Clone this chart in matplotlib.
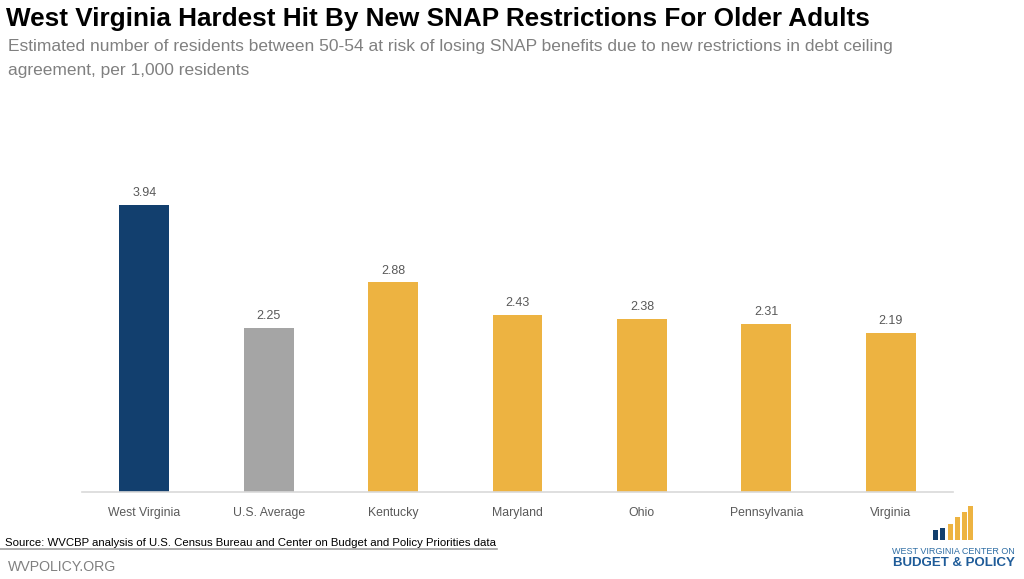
import matplotlib
matplotlib.use('Agg')
import matplotlib.pyplot as plt
from matplotlib.patches import Rectangle
from matplotlib.lines import Line2D

states = ['West Virginia', 'U.S. Average', 'Kentucky', 'Maryland', 'Ohio', 'Pennsylvania', 'Virginia']
values = [3.94, 2.25, 2.88, 2.43, 2.38, 2.31, 2.19]
labels = ['3.94', '2.25', '2.88', '2.43', '2.38', '2.31', '2.19']

navy = '#123F6E'
grey = '#A5A5A5'
gold = '#EDB341'
colors = [navy, grey] + [gold] * 5

plt.rcParams['font.family'] = ['Liberation Sans', 'DejaVu Sans']

W, H = 1024, 579
fig = plt.figure(figsize=(W / 100, H / 100), dpi=100)

def fx(px):
    return px / W

def fy(py):
    return 1 - py / H

# axes placed so the baseline sits at y=492 and bars span 82..953
top_px = 120
ymax = (492 - top_px) / 72.8
ax = fig.add_axes([fx(82), fy(492), fx(953 - 82), (492 - top_px) / H])
x = range(len(states))
bars = ax.bar(x, values, width=0.4, color=colors)
ax.set_xlim(-0.5, len(states) - 0.5)
ax.set_ylim(0, ymax)
for i, v in enumerate(values):
    ax.text(i, v + 0.08, labels[i], ha='center', va='bottom', fontsize=9, color='#595959')
ax.set_xticks(list(x))
ax.set_xticklabels(states, fontsize=8.8, color='#595959')
ax.tick_params(axis='x', length=0, pad=11)
ax.set_yticks([])
for s in ['top', 'right', 'left']:
    ax.spines[s].set_visible(False)
ax.spines['bottom'].set_color('#D9D9D9')
ax.spines['bottom'].set_linewidth(1.2)

# title and subtitle
fig.text(fx(6), fy(19), 'West Virginia Hardest Hit By New SNAP Restrictions For Older Adults',
         fontsize=18.8, fontweight='bold', color='black', va='center')
fig.text(fx(8), fy(46), 'Estimated number of residents between 50-54 at risk of losing SNAP benefits due to new restrictions in debt ceiling',
         fontsize=12.5, color='#808080', va='center')
fig.text(fx(8), fy(71), 'agreement, per 1,000 residents', fontsize=12.5, color='#808080', va='center')

# source and footer
fig.text(fx(5), fy(543), 'Source: WVCBP analysis of U.S. Census Bureau and Center on Budget and Policy Priorities data',
         fontsize=8.2, color='black', va='center')
fig.add_artist(Line2D([fx(0), fx(497)], [fy(549), fy(549)], color='#A0A0A0', lw=1.2))
fig.text(fx(8), fy(567), 'WVPOLICY.ORG', fontsize=10.2, color='#808080', va='center')

# logo
logo_bars = [(933, 530, navy), (940, 528, navy), (948, 524, gold), (955, 517, gold), (962, 512, gold), (968, 506, gold)]
for lx, ly, c in logo_bars:
    fig.add_artist(Rectangle((fx(lx), fy(540)), fx(4.8), (540 - ly) / H, color=c, lw=0,
                             transform=fig.transFigure))
fig.text(fx(953.5), fy(551), 'WEST VIRGINIA CENTER ON', fontsize=6.5, color='#2E6DA4', ha='center', va='center')
fig.text(fx(953.5), fy(563), 'BUDGET & POLICY', fontsize=9.5, fontweight='bold', color='#1F5C99', ha='center', va='center')

fig.savefig('out.png', dpi=100)
